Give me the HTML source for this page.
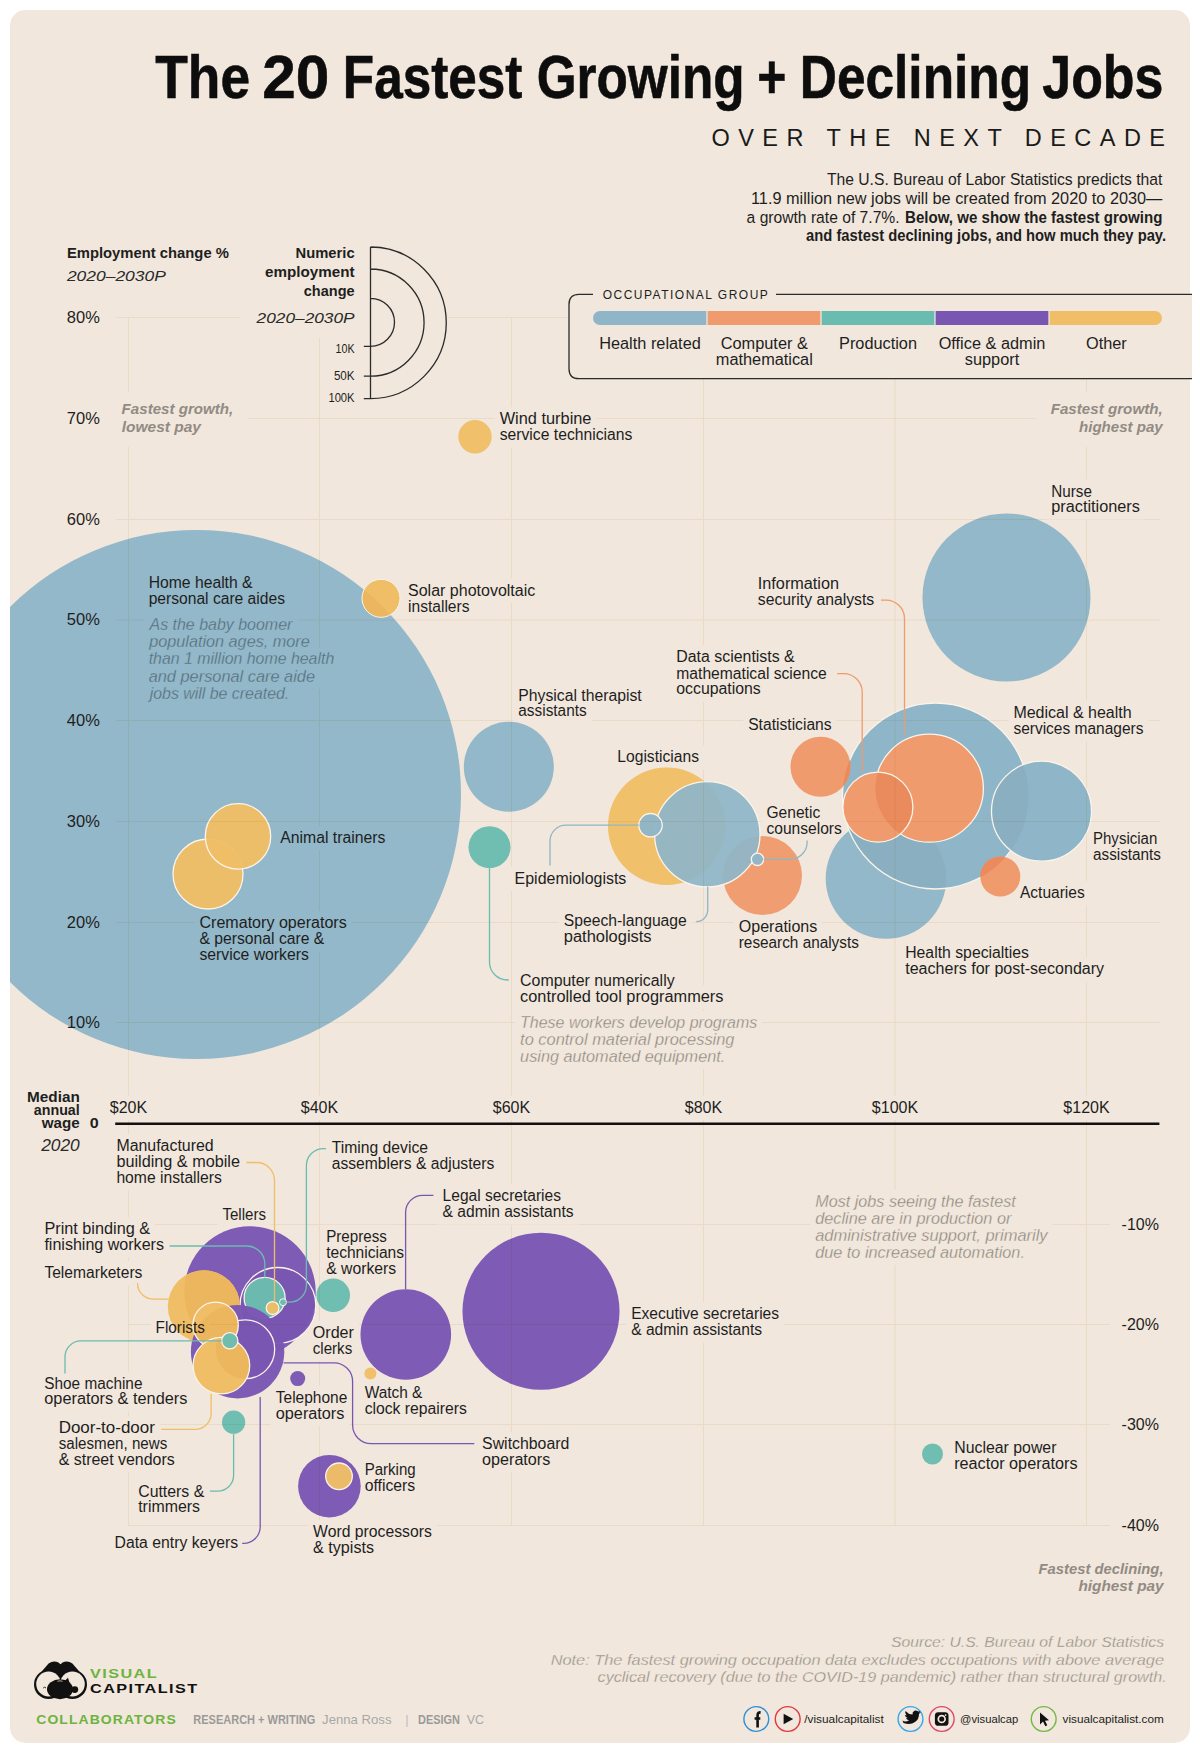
<!DOCTYPE html>
<html><head><meta charset="utf-8"><title>The 20 Fastest Growing + Declining Jobs</title>
<style>
html,body{margin:0;padding:0;background:#fff;}
svg{display:block;}
text{font-family:"Liberation Sans",sans-serif;}
</style></head><body>
<svg width="1200" height="1753" viewBox="0 0 1200 1753">
<clipPath id="cardclip"><rect x="10" y="10" width="1180" height="1733" rx="15"/></clipPath>

<g clip-path="url(#cardclip)"><rect x="10" y="10" width="1180" height="1733" rx="15" fill="#f1e7dc"/><circle cx="196.5" cy="794.5" r="264.5" fill="#8fb6c8" fill-opacity="0.97"/>
<circle cx="1006.5" cy="597.5" r="84" fill="#8fb6c8" fill-opacity="0.97"/>
<circle cx="475" cy="436.7" r="16.7" fill="#f0be66" fill-opacity="0.97"/>
<circle cx="381" cy="598.3" r="19" fill="#f0be66" fill-opacity="1"/>
<clipPath id="cc1"><circle cx="381" cy="598.3" r="19"/></clipPath><g clip-path="url(#cc1)"><circle cx="196.5" cy="794.5" r="264.5" fill="#ebb65d"/></g>
<circle cx="381" cy="598.3" r="19" fill="none" stroke="#faf4ea" stroke-width="1"/>
<circle cx="508.8" cy="766.7" r="45" fill="#8fb6c8" fill-opacity="0.97"/>
<circle cx="489.5" cy="847.2" r="21" fill="#6bbcb0" fill-opacity="0.97"/>
<circle cx="208" cy="874" r="35" fill="#f0be66" fill-opacity="0.97" stroke="#faf4ea" stroke-width="1.3"/>
<circle cx="238" cy="836.4" r="32.7" fill="#f0be66" fill-opacity="0.97" stroke="#faf4ea" stroke-width="1.3"/>
<circle cx="666.7" cy="826.3" r="58.7" fill="#f0be66" fill-opacity="0.97"/>
<circle cx="762.5" cy="875.6" r="39.5" fill="#ef9b6d" fill-opacity="0.97"/>
<circle cx="707.3" cy="834.3" r="52.7" fill="#8fb6c8" fill-opacity="0.93" stroke="#faf4ea" stroke-width="1.3"/>
<circle cx="650.5" cy="825.2" r="11.7" fill="#8fb6c8" fill-opacity="0.97" stroke="#faf4ea" stroke-width="1.3"/>
<circle cx="757.5" cy="859.3" r="6.2" fill="#8fb6c8" fill-opacity="0.97" stroke="#faf4ea" stroke-width="1.3"/>
<circle cx="886" cy="878.5" r="60.3" fill="#8fb6c8" fill-opacity="0.97"/>
<circle cx="935.5" cy="796" r="93" fill="#8fb6c8" fill-opacity="1"/>
<clipPath id="cc2"><circle cx="935.5" cy="796" r="93"/></clipPath><g clip-path="url(#cc2)"><circle cx="886" cy="878.5" r="60.3" fill="#8aafc1"/></g>
<circle cx="935.5" cy="796" r="93" fill="none" stroke="#faf4ea" stroke-width="1.3"/>
<circle cx="820.5" cy="766.7" r="30" fill="#ef9b6d" fill-opacity="1"/>
<clipPath id="cc3"><circle cx="820.5" cy="766.7" r="30"/></clipPath><g clip-path="url(#cc3)"><circle cx="935.5" cy="796" r="93" fill="#e98b5c"/></g>
<circle cx="1000.3" cy="876.5" r="20" fill="#ef9b6d" fill-opacity="1"/>
<clipPath id="cc4"><circle cx="1000.3" cy="876.5" r="20"/></clipPath><g clip-path="url(#cc4)"><circle cx="935.5" cy="796" r="93" fill="#e98b5c"/></g>
<circle cx="1041.5" cy="811.2" r="50" fill="#8fb6c8" fill-opacity="1"/>
<clipPath id="cc5"><circle cx="1041.5" cy="811.2" r="50"/></clipPath><g clip-path="url(#cc5)"><circle cx="935.5" cy="796" r="93" fill="#8aafc1"/></g>
<circle cx="1041.5" cy="811.2" r="50" fill="none" stroke="#faf4ea" stroke-width="1.3"/>
<circle cx="929.4" cy="788.2" r="54" fill="#ef9b6d" fill-opacity="1" stroke="#faf4ea" stroke-width="1.3"/>
<circle cx="877.9" cy="807.1" r="35" fill="#ef9b6d" fill-opacity="1"/>
<clipPath id="cc6"><circle cx="877.9" cy="807.1" r="35"/></clipPath><g clip-path="url(#cc6)"><circle cx="929.4" cy="788.2" r="54" fill="#e98b5c"/></g>
<circle cx="877.9" cy="807.1" r="35" fill="none" stroke="#faf4ea" stroke-width="1.3"/>
<circle cx="541" cy="1311.2" r="78.5" fill="#7a56b3" fill-opacity="0.97"/>
<circle cx="405.8" cy="1334.5" r="45.3" fill="#7a56b3" fill-opacity="0.97"/>
<circle cx="333.2" cy="1295.3" r="16.8" fill="#6bbcb0" fill-opacity="0.97"/>
<circle cx="370.4" cy="1373.6" r="6" fill="#f0be66" fill-opacity="0.97"/>
<circle cx="297.7" cy="1378.6" r="7.5" fill="#7a56b3" fill-opacity="0.97"/>
<circle cx="233.6" cy="1422.2" r="11.6" fill="#6bbcb0" fill-opacity="0.97"/>
<circle cx="329.4" cy="1486.2" r="31.3" fill="#7a56b3" fill-opacity="0.97"/>
<circle cx="339" cy="1476.3" r="13.3" fill="#f0be66" fill-opacity="0.97" stroke="#faf4ea" stroke-width="1.3"/>
<circle cx="932.5" cy="1454" r="10.5" fill="#6bbcb0" fill-opacity="0.97"/>
<circle cx="250" cy="1292" r="65.7" fill="#7a56b3" fill-opacity="0.97"/>
<circle cx="277.9" cy="1305.4" r="37.9" fill="#7a56b3" fill-opacity="0.97" stroke="#faf4ea" stroke-width="1.3"/>
<circle cx="264.6" cy="1297.9" r="20.5" fill="#6bbcb0" fill-opacity="0.97" stroke="#faf4ea" stroke-width="1.3"/>
<circle cx="272.6" cy="1308.1" r="6.4" fill="#f0be66" fill-opacity="0.97" stroke="#faf4ea" stroke-width="1.3"/>
<circle cx="283" cy="1302.2" r="3.5" fill="#6bbcb0" fill-opacity="0.97" stroke="#faf4ea" stroke-width="1"/>
<circle cx="203.9" cy="1306.4" r="36.1" fill="#f0be66" fill-opacity="1"/>
<clipPath id="cc7"><circle cx="203.9" cy="1306.4" r="36.1"/></clipPath><g clip-path="url(#cc7)"><circle cx="250" cy="1292" r="65.7" fill="#ebb65d"/></g>
<circle cx="237.6" cy="1351.7" r="46.7" fill="#7a56b3" fill-opacity="0.97"/>
<circle cx="245.3" cy="1349.3" r="29.4" fill="#7a56b3" fill-opacity="0.97" stroke="#faf4ea" stroke-width="1.3"/>
<circle cx="215.6" cy="1324.9" r="22.7" fill="#f0be66" fill-opacity="1"/>
<clipPath id="cc8"><circle cx="215.6" cy="1324.9" r="22.7"/></clipPath><g clip-path="url(#cc8)"><circle cx="237.6" cy="1351.7" r="46.7" fill="#ebb65d"/></g>
<circle cx="215.6" cy="1324.9" r="22.7" fill="none" stroke="#faf4ea" stroke-width="1.3"/>
<circle cx="221.4" cy="1365.6" r="28.3" fill="#f0be66" fill-opacity="1"/>
<clipPath id="cc9"><circle cx="221.4" cy="1365.6" r="28.3"/></clipPath><g clip-path="url(#cc9)"><circle cx="245.3" cy="1349.3" r="29.4" fill="#ebb65d"/></g>
<circle cx="221.4" cy="1365.6" r="28.3" fill="none" stroke="#faf4ea" stroke-width="1.3"/>
<circle cx="229.8" cy="1340.7" r="8.1" fill="#6bbcb0" fill-opacity="0.97" stroke="#faf4ea" stroke-width="1.3"/>
<mask id="gm" maskUnits="userSpaceOnUse" x="0" y="0" width="1200" height="1753"><rect x="0" y="0" width="1200" height="1753" fill="#fff"/><rect x="150.3" y="47.8" width="104.8" height="66.7" fill="#000"/><rect x="257.3" y="47.8" width="77.0" height="66.7" fill="#000"/><rect x="337.8" y="47.8" width="189.7" height="66.7" fill="#000"/><rect x="531.7" y="47.8" width="217.9" height="66.7" fill="#000"/><rect x="752.3" y="47.8" width="39.1" height="66.7" fill="#000"/><rect x="794.8" y="47.8" width="241.3" height="66.7" fill="#000"/><rect x="1037.3" y="47.8" width="131.1" height="66.7" fill="#000"/><rect x="706.5" y="123.9" width="471.9" height="31.4" fill="#000"/><rect x="821.9" y="168.0" width="345.5" height="24.7" fill="#000"/><rect x="746.0" y="186.6" width="421.4" height="24.7" fill="#000"/><rect x="741.6" y="205.3" width="163.0" height="24.7" fill="#000"/><rect x="900.0" y="205.3" width="267.4" height="24.7" fill="#000"/><rect x="801.1" y="224.0" width="370.0" height="24.7" fill="#000"/><rect x="61.9" y="241.6" width="172.0" height="23.0" fill="#000"/><rect x="61.9" y="265.0" width="109.0" height="23.5" fill="#000"/><rect x="290.5" y="241.9" width="69.1" height="23.0" fill="#000"/><rect x="260.1" y="261.3" width="99.5" height="23.0" fill="#000"/><rect x="298.8" y="280.0" width="60.8" height="23.0" fill="#000"/><rect x="251.6" y="306.2" width="108.0" height="23.5" fill="#000"/><rect x="330.6" y="338.7" width="29.0" height="20.7" fill="#000"/><rect x="328.9" y="365.8" width="30.7" height="20.7" fill="#000"/><rect x="323.4" y="388.2" width="36.2" height="20.7" fill="#000"/><rect x="597.7" y="284.6" width="176.9" height="20.7" fill="#000"/><rect x="594.2" y="331.5" width="111.6" height="24.4" fill="#000"/><rect x="715.8" y="331.5" width="97.1" height="24.4" fill="#000"/><rect x="710.8" y="347.5" width="107.0" height="24.4" fill="#000"/><rect x="834.0" y="331.5" width="88.0" height="24.4" fill="#000"/><rect x="933.6" y="331.5" width="116.7" height="24.4" fill="#000"/><rect x="959.8" y="347.5" width="64.4" height="24.4" fill="#000"/><rect x="1081.0" y="331.5" width="50.8" height="24.4" fill="#000"/><rect x="61.8" y="305.1" width="43.0" height="24.8" fill="#000"/><rect x="61.8" y="406.1" width="43.0" height="24.8" fill="#000"/><rect x="61.8" y="507.1" width="43.0" height="24.8" fill="#000"/><rect x="61.8" y="607.6" width="43.0" height="24.8" fill="#000"/><rect x="61.8" y="708.1" width="43.0" height="24.8" fill="#000"/><rect x="61.8" y="809.1" width="43.0" height="24.8" fill="#000"/><rect x="61.8" y="910.1" width="43.0" height="24.8" fill="#000"/><rect x="61.8" y="1010.1" width="43.0" height="24.8" fill="#000"/><rect x="116.6" y="398.4" width="121.7" height="23.0" fill="#000"/><rect x="116.7" y="415.7" width="89.3" height="23.0" fill="#000"/><rect x="1045.7" y="398.4" width="122.0" height="23.0" fill="#000"/><rect x="1074.0" y="415.7" width="93.7" height="23.0" fill="#000"/><rect x="104.8" y="1095.8" width="47.4" height="24.4" fill="#000"/><rect x="295.8" y="1095.8" width="47.4" height="24.4" fill="#000"/><rect x="487.8" y="1095.8" width="47.4" height="24.4" fill="#000"/><rect x="679.8" y="1095.8" width="47.4" height="24.4" fill="#000"/><rect x="866.9" y="1095.8" width="56.3" height="24.4" fill="#000"/><rect x="1058.3" y="1095.8" width="56.3" height="24.4" fill="#000"/><rect x="22.0" y="1085.2" width="62.8" height="23.5" fill="#000"/><rect x="28.8" y="1098.5" width="55.9" height="23.5" fill="#000"/><rect x="36.8" y="1111.9" width="48.0" height="23.5" fill="#000"/><rect x="84.8" y="1111.5" width="18.9" height="23.9" fill="#000"/><rect x="36.2" y="1133.6" width="48.6" height="24.4" fill="#000"/><rect x="1116.6" y="1213.0" width="47.4" height="24.4" fill="#000"/><rect x="1116.6" y="1313.0" width="47.4" height="24.4" fill="#000"/><rect x="1116.6" y="1413.0" width="47.4" height="24.4" fill="#000"/><rect x="1116.6" y="1514.0" width="47.4" height="24.4" fill="#000"/><rect x="1033.5" y="1558.1" width="135.0" height="23.0" fill="#000"/><rect x="1073.5" y="1575.1" width="95.0" height="23.0" fill="#000"/><rect x="494.7" y="407.1" width="101.8" height="24.4" fill="#000"/><rect x="494.7" y="423.1" width="142.7" height="24.4" fill="#000"/><rect x="403.0" y="578.5" width="137.3" height="24.4" fill="#000"/><rect x="403.0" y="594.5" width="71.5" height="24.4" fill="#000"/><rect x="143.7" y="571.1" width="113.9" height="24.4" fill="#000"/><rect x="143.7" y="587.1" width="146.2" height="24.4" fill="#000"/><rect x="144.5" y="613.2" width="152.8" height="24.4" fill="#000"/><rect x="144.2" y="630.3" width="170.6" height="24.4" fill="#000"/><rect x="143.7" y="647.4" width="195.6" height="24.4" fill="#000"/><rect x="143.7" y="664.5" width="176.3" height="24.4" fill="#000"/><rect x="144.7" y="681.6" width="149.5" height="24.4" fill="#000"/><rect x="275.3" y="826.1" width="115.1" height="24.4" fill="#000"/><rect x="194.5" y="911.1" width="157.2" height="24.4" fill="#000"/><rect x="194.5" y="926.9" width="134.8" height="24.4" fill="#000"/><rect x="194.5" y="942.8" width="119.3" height="24.4" fill="#000"/><rect x="1046.3" y="479.6" width="50.7" height="24.4" fill="#000"/><rect x="1046.3" y="495.1" width="98.6" height="24.4" fill="#000"/><rect x="752.8" y="572.4" width="91.2" height="24.4" fill="#000"/><rect x="752.8" y="587.8" width="126.4" height="24.4" fill="#000"/><rect x="671.3" y="645.1" width="128.3" height="24.4" fill="#000"/><rect x="671.3" y="661.6" width="160.5" height="24.4" fill="#000"/><rect x="671.3" y="677.3" width="94.5" height="24.4" fill="#000"/><rect x="513.3" y="683.6" width="133.3" height="24.4" fill="#000"/><rect x="513.3" y="699.0" width="78.3" height="24.4" fill="#000"/><rect x="1008.4" y="700.8" width="128.2" height="24.4" fill="#000"/><rect x="1008.4" y="716.8" width="140.0" height="24.4" fill="#000"/><rect x="743.2" y="713.2" width="93.4" height="24.4" fill="#000"/><rect x="612.3" y="745.2" width="91.7" height="24.4" fill="#000"/><rect x="761.5" y="800.5" width="63.7" height="24.4" fill="#000"/><rect x="761.5" y="816.6" width="85.3" height="24.4" fill="#000"/><rect x="1088.0" y="826.8" width="74.3" height="24.4" fill="#000"/><rect x="1088.0" y="842.7" width="77.9" height="24.4" fill="#000"/><rect x="509.6" y="866.6" width="121.8" height="24.4" fill="#000"/><rect x="1015.0" y="881.0" width="74.7" height="24.4" fill="#000"/><rect x="558.8" y="909.1" width="133.0" height="24.4" fill="#000"/><rect x="558.8" y="925.2" width="97.7" height="24.4" fill="#000"/><rect x="733.8" y="914.6" width="88.6" height="24.4" fill="#000"/><rect x="733.8" y="930.5" width="130.1" height="24.4" fill="#000"/><rect x="900.2" y="940.9" width="133.8" height="24.4" fill="#000"/><rect x="900.2" y="957.1" width="209.0" height="24.4" fill="#000"/><rect x="515.1" y="969.2" width="164.5" height="24.4" fill="#000"/><rect x="515.1" y="985.0" width="213.4" height="24.4" fill="#000"/><rect x="515.1" y="1011.0" width="247.1" height="24.4" fill="#000"/><rect x="515.1" y="1027.8" width="224.4" height="24.4" fill="#000"/><rect x="515.1" y="1044.7" width="215.2" height="24.4" fill="#000"/><rect x="111.4" y="1134.0" width="107.3" height="24.4" fill="#000"/><rect x="111.4" y="1150.1" width="133.6" height="24.4" fill="#000"/><rect x="111.4" y="1166.1" width="115.5" height="24.4" fill="#000"/><rect x="326.7" y="1135.8" width="106.3" height="24.4" fill="#000"/><rect x="326.7" y="1151.8" width="172.5" height="24.4" fill="#000"/><rect x="217.4" y="1203.4" width="53.6" height="24.4" fill="#000"/><rect x="39.4" y="1217.1" width="115.7" height="24.4" fill="#000"/><rect x="39.4" y="1233.0" width="129.6" height="24.4" fill="#000"/><rect x="39.4" y="1261.1" width="108.0" height="24.4" fill="#000"/><rect x="437.6" y="1184.3" width="128.4" height="24.4" fill="#000"/><rect x="437.6" y="1200.2" width="140.9" height="24.4" fill="#000"/><rect x="321.2" y="1224.8" width="70.6" height="24.4" fill="#000"/><rect x="321.2" y="1240.8" width="87.8" height="24.4" fill="#000"/><rect x="321.2" y="1256.6" width="79.9" height="24.4" fill="#000"/><rect x="150.6" y="1315.8" width="59.3" height="24.4" fill="#000"/><rect x="307.8" y="1321.0" width="51.1" height="24.4" fill="#000"/><rect x="307.8" y="1337.0" width="49.4" height="24.4" fill="#000"/><rect x="39.3" y="1371.6" width="108.1" height="24.4" fill="#000"/><rect x="39.3" y="1387.2" width="153.0" height="24.4" fill="#000"/><rect x="270.8" y="1385.8" width="81.5" height="24.4" fill="#000"/><rect x="270.8" y="1401.9" width="78.6" height="24.4" fill="#000"/><rect x="359.7" y="1381.1" width="67.7" height="24.4" fill="#000"/><rect x="359.7" y="1397.2" width="112.1" height="24.4" fill="#000"/><rect x="53.7" y="1416.4" width="106.2" height="24.4" fill="#000"/><rect x="53.7" y="1432.1" width="118.6" height="24.4" fill="#000"/><rect x="53.7" y="1447.8" width="126.0" height="24.4" fill="#000"/><rect x="477.1" y="1432.1" width="97.2" height="24.4" fill="#000"/><rect x="477.1" y="1447.9" width="78.2" height="24.4" fill="#000"/><rect x="133.2" y="1479.5" width="76.1" height="24.4" fill="#000"/><rect x="133.2" y="1494.9" width="71.8" height="24.4" fill="#000"/><rect x="359.7" y="1458.2" width="61.0" height="24.4" fill="#000"/><rect x="359.7" y="1474.3" width="60.5" height="24.4" fill="#000"/><rect x="109.6" y="1531.1" width="133.4" height="24.4" fill="#000"/><rect x="308.1" y="1520.0" width="128.7" height="24.4" fill="#000"/><rect x="308.1" y="1535.8" width="70.9" height="24.4" fill="#000"/><rect x="626.2" y="1302.4" width="157.8" height="24.4" fill="#000"/><rect x="626.2" y="1318.4" width="140.8" height="24.4" fill="#000"/><rect x="949.2" y="1436.3" width="112.2" height="24.4" fill="#000"/><rect x="949.2" y="1451.8" width="133.4" height="24.4" fill="#000"/><rect x="810.2" y="1189.5" width="210.6" height="24.4" fill="#000"/><rect x="810.2" y="1206.5" width="206.2" height="24.4" fill="#000"/><rect x="810.2" y="1223.5" width="242.4" height="24.4" fill="#000"/><rect x="810.2" y="1240.5" width="219.7" height="24.4" fill="#000"/><rect x="886.0" y="1630.8" width="283.0" height="23.0" fill="#000"/><rect x="545.7" y="1649.4" width="623.3" height="23.0" fill="#000"/><rect x="592.6" y="1666.5" width="579.1" height="23.0" fill="#000"/><rect x="85.0" y="1663.1" width="78.0" height="22.1" fill="#000"/><rect x="85.0" y="1677.3" width="118.5" height="22.1" fill="#000"/><rect x="31.3" y="1708.8" width="150.5" height="21.6" fill="#000"/><rect x="188.3" y="1708.6" width="131.9" height="21.6" fill="#000"/><rect x="317.1" y="1708.6" width="79.4" height="21.6" fill="#000"/><rect x="400.3" y="1708.6" width="13.4" height="21.6" fill="#000"/><rect x="413.1" y="1708.6" width="51.9" height="21.6" fill="#000"/><rect x="461.7" y="1708.6" width="27.3" height="21.6" fill="#000"/><rect x="799.3" y="1708.9" width="89.4" height="20.2" fill="#000"/><rect x="955.1" y="1708.9" width="68.1" height="20.2" fill="#000"/><rect x="1057.6" y="1708.9" width="111.2" height="20.2" fill="#000"/><rect x="240.0" y="238.0" width="208.0" height="100.0" fill="#000"/><rect x="108.0" y="392.0" width="140.0" height="55.0" fill="#000"/><rect x="1036.0" y="392.0" width="135.0" height="55.0" fill="#000"/></mask><g mask="url(#gm)" style="mix-blend-mode:multiply"><path d="M116 317.5H1160M116 418.5H1160M116 519.5H1160M116 620H1160M116 720.5H1160M116 821.5H1160M116 922.5H1160M116 1022.5H1160M128.5 318V1123M319.5 318V1123M511.5 318V1123M703.5 318V1123M895 318V1123M1086.5 318V1123M127.5 1224.5H1110M127.5 1324.5H1110M127.5 1424.5H1110M127.5 1525.5H1110M128.5 1123V1526M319.5 1123V1526M511.5 1123V1526M703.5 1123V1526M895 1123V1526M1086.5 1123V1526" stroke="#f7f2e5" stroke-width="1" fill="none"/></g>
</g>
<text x="155.3" y="97.6" font-size="61.5" fill="#0d0d0d" font-weight="bold" textLength="94.78" lengthAdjust="spacingAndGlyphs" stroke="#0d0d0d" stroke-width="0.6">The</text>
<text x="262.3" y="97.6" font-size="61.5" fill="#0d0d0d" font-weight="bold" textLength="67.03" lengthAdjust="spacingAndGlyphs" stroke="#0d0d0d" stroke-width="0.6">20</text>
<text x="342.8" y="97.6" font-size="61.5" fill="#0d0d0d" font-weight="bold" textLength="179.66" lengthAdjust="spacingAndGlyphs" stroke="#0d0d0d" stroke-width="0.6">Fastest</text>
<text x="536.7" y="97.6" font-size="61.5" fill="#0d0d0d" font-weight="bold" textLength="207.94" lengthAdjust="spacingAndGlyphs" stroke="#0d0d0d" stroke-width="0.6">Growing</text>
<text x="757.3" y="97.6" font-size="61.5" fill="#0d0d0d" font-weight="bold" textLength="29.1" lengthAdjust="spacingAndGlyphs" stroke="#0d0d0d" stroke-width="0.6">+</text>
<text x="799.8" y="97.6" font-size="61.5" fill="#0d0d0d" font-weight="bold" textLength="231.31" lengthAdjust="spacingAndGlyphs" stroke="#0d0d0d" stroke-width="0.6">Declining</text>
<text x="1042.3" y="97.6" font-size="61.5" fill="#0d0d0d" font-weight="bold" textLength="121.09" lengthAdjust="spacingAndGlyphs" stroke="#0d0d0d" stroke-width="0.6">Jobs</text>
<text x="711.5" y="146.3" font-size="23.5" fill="#1a1a1a" letter-spacing="8.45">OVER THE NEXT DECADE</text>
<text x="1162.4" y="185.2" font-size="16.3" fill="#1e1e1e" text-anchor="end" textLength="335.5" lengthAdjust="spacingAndGlyphs">The U.S. Bureau of Labor Statistics predicts that</text>
<text x="1162.4" y="203.8" font-size="16.3" fill="#1e1e1e" text-anchor="end" textLength="411.4" lengthAdjust="spacingAndGlyphs">11.9 million new jobs will be created from 2020 to 2030—</text>
<text x="746.6" y="222.5" font-size="16.3" fill="#1e1e1e" textLength="153" lengthAdjust="spacingAndGlyphs">a growth rate of 7.7%.</text>
<text x="905" y="222.5" font-size="16.3" fill="#1e1e1e" font-weight="bold" textLength="257.4" lengthAdjust="spacingAndGlyphs">Below, we show the fastest growing</text>
<text x="1166.1" y="241.2" font-size="16.3" fill="#1e1e1e" font-weight="bold" text-anchor="end" textLength="360" lengthAdjust="spacingAndGlyphs">and fastest declining jobs, and how much they pay.</text>
<text x="66.9" y="257.5" font-size="14.5" fill="#1e1e1e" font-weight="bold" textLength="162" lengthAdjust="spacingAndGlyphs">Employment change %</text>
<text x="66.9" y="281.3" font-size="15" fill="#2a2a2a" font-style="italic" textLength="99" lengthAdjust="spacingAndGlyphs">2020–2030P</text>
<text x="354.6" y="257.8" font-size="14.5" fill="#1e1e1e" font-weight="bold" text-anchor="end" textLength="59.1" lengthAdjust="spacingAndGlyphs">Numeric</text>
<text x="354.6" y="277.2" font-size="14.5" fill="#1e1e1e" font-weight="bold" text-anchor="end" textLength="89.5" lengthAdjust="spacingAndGlyphs">employment</text>
<text x="354.6" y="295.9" font-size="14.5" fill="#1e1e1e" font-weight="bold" text-anchor="end" textLength="50.8" lengthAdjust="spacingAndGlyphs">change</text>
<text x="354.6" y="322.5" font-size="15" fill="#2a2a2a" font-style="italic" text-anchor="end" textLength="98" lengthAdjust="spacingAndGlyphs">2020–2030P</text>
<text x="354.6" y="352.8" font-size="12" fill="#1e1e1e" text-anchor="end" textLength="19" lengthAdjust="spacingAndGlyphs">10K</text>
<text x="354.6" y="379.9" font-size="12" fill="#1e1e1e" text-anchor="end" textLength="20.7" lengthAdjust="spacingAndGlyphs">50K</text>
<text x="354.6" y="402.3" font-size="12" fill="#1e1e1e" text-anchor="end" textLength="26.2" lengthAdjust="spacingAndGlyphs">100K</text>
<path d="M370.5 247V398.6 M370.5 247A75.8 75.8 0 0 1 370.5 398.6 M370.5 269A53.6 53.6 0 0 1 370.5 376.2 M370.5 298.3A24 24 0 0 1 370.5 346.3 M363.8 346.3H370.5 M363.8 376.2H370.5 M363.8 398.6H370.5" stroke="#2b2b2b" stroke-width="1.3" fill="none"/>
<path d="M579 294.4H1192V378.7H579Q569 378.7 569 368.7V304.4Q569 294.4 579 294.4Z" fill="#f1e7dc"/>
<path d="M776 294.4H1192 M593 294.4H579 Q569 294.4 569 304.4V368.7Q569 378.7 579 378.7H1192" stroke="#2b2b2b" stroke-width="1.3" fill="none"/>
<text x="602.7" y="298.7" font-size="12" fill="#1e1e1e" textLength="166.9" lengthAdjust="spacing" letter-spacing="1.8">OCCUPATIONAL GROUP</text>
<clipPath id="barclip"><rect x="593" y="311" width="569" height="14" rx="7"/></clipPath>
<g clip-path="url(#barclip)">
<rect x="593" y="311" width="114" height="14" fill="#8fb6c8"/>
<rect x="707" y="311" width="114" height="14" fill="#ef9b6d"/>
<rect x="821" y="311" width="114" height="14" fill="#6bbcb0"/>
<rect x="935" y="311" width="114" height="14" fill="#7a56b3"/>
<rect x="1049" y="311" width="113" height="14" fill="#f0be66"/>
<rect x="706.4" y="311" width="1.2" height="14" fill="#f3ebe0"/>
<rect x="820.4" y="311" width="1.2" height="14" fill="#f3ebe0"/>
<rect x="934.4" y="311" width="1.2" height="14" fill="#f3ebe0"/>
<rect x="1048.4" y="311" width="1.2" height="14" fill="#f3ebe0"/>
</g>
<text x="650" y="348.5" font-size="16" fill="#1e1e1e" text-anchor="middle" textLength="101.6" lengthAdjust="spacingAndGlyphs">Health related</text>
<text x="764.3" y="348.5" font-size="16" fill="#1e1e1e" text-anchor="middle" textLength="87.1" lengthAdjust="spacingAndGlyphs">Computer &amp;</text>
<text x="764.3" y="364.5" font-size="16" fill="#1e1e1e" text-anchor="middle" textLength="97.0" lengthAdjust="spacingAndGlyphs">mathematical</text>
<text x="878" y="348.5" font-size="16" fill="#1e1e1e" text-anchor="middle" textLength="78.0" lengthAdjust="spacingAndGlyphs">Production</text>
<text x="992" y="348.5" font-size="16" fill="#1e1e1e" text-anchor="middle" textLength="106.7" lengthAdjust="spacingAndGlyphs">Office &amp; admin</text>
<text x="992" y="364.5" font-size="16" fill="#1e1e1e" text-anchor="middle" textLength="54.4" lengthAdjust="spacingAndGlyphs">support</text>
<text x="1106.4" y="348.5" font-size="16" fill="#1e1e1e" text-anchor="middle" textLength="40.8" lengthAdjust="spacingAndGlyphs">Other</text>
<text x="99.8" y="322.5" font-size="16.5" fill="#1e1e1e" text-anchor="end" textLength="33.0" lengthAdjust="spacingAndGlyphs">80%</text>
<text x="99.8" y="423.5" font-size="16.5" fill="#1e1e1e" text-anchor="end" textLength="33.0" lengthAdjust="spacingAndGlyphs">70%</text>
<text x="99.8" y="524.5" font-size="16.5" fill="#1e1e1e" text-anchor="end" textLength="33.0" lengthAdjust="spacingAndGlyphs">60%</text>
<text x="99.8" y="625" font-size="16.5" fill="#1e1e1e" text-anchor="end" textLength="33.0" lengthAdjust="spacingAndGlyphs">50%</text>
<text x="99.8" y="725.5" font-size="16.5" fill="#1e1e1e" text-anchor="end" textLength="33.0" lengthAdjust="spacingAndGlyphs">40%</text>
<text x="99.8" y="826.5" font-size="16.5" fill="#1e1e1e" text-anchor="end" textLength="33.0" lengthAdjust="spacingAndGlyphs">30%</text>
<text x="99.8" y="927.5" font-size="16.5" fill="#1e1e1e" text-anchor="end" textLength="33.0" lengthAdjust="spacingAndGlyphs">20%</text>
<text x="99.8" y="1027.5" font-size="16.5" fill="#1e1e1e" text-anchor="end" textLength="33.0" lengthAdjust="spacingAndGlyphs">10%</text>
<text x="121.6" y="414.3" font-size="14.5" fill="#918b84" font-weight="bold" font-style="italic" textLength="111.7" lengthAdjust="spacingAndGlyphs">Fastest growth,</text>
<text x="121.7" y="431.6" font-size="14.5" fill="#918b84" font-weight="bold" font-style="italic" textLength="79.3" lengthAdjust="spacingAndGlyphs">lowest pay</text>
<text x="1162.7" y="414.3" font-size="14.5" fill="#918b84" font-weight="bold" font-style="italic" text-anchor="end" textLength="112" lengthAdjust="spacingAndGlyphs">Fastest growth,</text>
<text x="1162.7" y="431.6" font-size="14.5" fill="#918b84" font-weight="bold" font-style="italic" text-anchor="end" textLength="83.7" lengthAdjust="spacingAndGlyphs">highest pay</text>
<text x="128.5" y="1112.8" font-size="16.01" fill="#1e1e1e" text-anchor="middle" textLength="37.4" lengthAdjust="spacingAndGlyphs">$20K</text>
<text x="319.5" y="1112.8" font-size="16.01" fill="#1e1e1e" text-anchor="middle" textLength="37.4" lengthAdjust="spacingAndGlyphs">$40K</text>
<text x="511.5" y="1112.8" font-size="16.01" fill="#1e1e1e" text-anchor="middle" textLength="37.4" lengthAdjust="spacingAndGlyphs">$60K</text>
<text x="703.5" y="1112.8" font-size="16.01" fill="#1e1e1e" text-anchor="middle" textLength="37.4" lengthAdjust="spacingAndGlyphs">$80K</text>
<text x="895" y="1112.8" font-size="16.01" fill="#1e1e1e" text-anchor="middle" textLength="46.3" lengthAdjust="spacingAndGlyphs">$100K</text>
<text x="1086.5" y="1112.8" font-size="16.01" fill="#1e1e1e" text-anchor="middle" textLength="46.3" lengthAdjust="spacingAndGlyphs">$120K</text>
<path d="M115.2 1123.8H1159.4" stroke="#111" stroke-width="2.6" fill="none"/>
<text x="27.0" y="1101.5" font-size="15" fill="#1e1e1e" font-weight="bold" textLength="52.77" lengthAdjust="spacingAndGlyphs">Median</text>
<text x="33.8" y="1114.8" font-size="15" fill="#1e1e1e" font-weight="bold" textLength="45.93" lengthAdjust="spacingAndGlyphs">annual</text>
<text x="41.75" y="1128.2" font-size="15" fill="#1e1e1e" font-weight="bold" textLength="37.96" lengthAdjust="spacingAndGlyphs">wage</text>
<text x="89.8" y="1128.2" font-size="15.5" fill="#1e1e1e" font-weight="bold" textLength="8.94" lengthAdjust="spacingAndGlyphs">0</text>
<text x="41.17" y="1150.6" font-size="16.01" fill="#2a2a2a" font-style="italic" textLength="38.6" lengthAdjust="spacingAndGlyphs">2020</text>
<text x="1159" y="1230.0" font-size="16.01" fill="#1e1e1e" text-anchor="end" textLength="37.4" lengthAdjust="spacingAndGlyphs">-10%</text>
<text x="1159" y="1330.0" font-size="16.01" fill="#1e1e1e" text-anchor="end" textLength="37.4" lengthAdjust="spacingAndGlyphs">-20%</text>
<text x="1159" y="1430.0" font-size="16.01" fill="#1e1e1e" text-anchor="end" textLength="37.4" lengthAdjust="spacingAndGlyphs">-30%</text>
<text x="1159" y="1531.0" font-size="16.01" fill="#1e1e1e" text-anchor="end" textLength="37.4" lengthAdjust="spacingAndGlyphs">-40%</text>
<text x="1163.5" y="1574" font-size="14.5" fill="#918b84" font-weight="bold" font-style="italic" text-anchor="end" textLength="125" lengthAdjust="spacingAndGlyphs">Fastest declining,</text>
<text x="1163.5" y="1591" font-size="14.5" fill="#918b84" font-weight="bold" font-style="italic" text-anchor="end" textLength="85" lengthAdjust="spacingAndGlyphs">highest pay</text>
<path d="M881 600.1 L886.00 600.10 A18.50 18.50 0 0 1 904.50 618.60 L904.5 734.5" stroke="#ef9b6d" stroke-width="1.3" fill="none"/>
<path d="M837.1 673.6 L843.70 673.60 A18.50 18.50 0 0 1 862.20 692.10 L862.2 772" stroke="#ef9b6d" stroke-width="1.3" fill="none"/>
<path d="M763.7 859.3 L790.10 859.30 A17.00 17.00 0 0 0 807.10 842.30 L807.1 840.5" stroke="#8fb6c8" stroke-width="1.3" fill="none"/>
<path d="M638.8 825.2 L566.00 825.20 A16.00 16.00 0 0 0 550.00 841.20 L550 865.5" stroke="#8fb6c8" stroke-width="1.3" fill="none"/>
<path d="M707.7 886.8 L707.70 910.10 A11.50 11.50 0 0 1 696.20 921.60 L696.2 921.6" stroke="#8fb6c8" stroke-width="1.3" fill="none"/>
<path d="M489.5 868.2 L489.50 962.00 A18.00 18.00 0 0 0 507.50 980.00 L508.75 980" stroke="#6bbcb0" stroke-width="1.3" fill="none"/>
<text x="499.7" y="424.1" font-size="16" fill="#1e1e1e" textLength="91.76" lengthAdjust="spacingAndGlyphs">Wind turbine</text>
<text x="499.7" y="440.1" font-size="16" fill="#1e1e1e" textLength="132.67" lengthAdjust="spacingAndGlyphs">service technicians</text>
<text x="408.0" y="595.5" font-size="16" fill="#1e1e1e" textLength="127.28" lengthAdjust="spacingAndGlyphs">Solar photovoltaic</text>
<text x="408.0" y="611.5" font-size="16" fill="#1e1e1e" textLength="61.53" lengthAdjust="spacingAndGlyphs">installers</text>
<text x="148.7" y="588.1" font-size="16" fill="#1e1e1e" textLength="103.87" lengthAdjust="spacingAndGlyphs">Home health &amp;</text>
<text x="148.7" y="604.1" font-size="16" fill="#1e1e1e" textLength="136.25" lengthAdjust="spacingAndGlyphs">personal care aides</text>
<text x="149.5" y="630.2" font-size="16" fill="#556d79" font-style="italic" textLength="142.85" lengthAdjust="spacingAndGlyphs" stroke="#93b8c9" stroke-width="0.3">As the baby boomer</text>
<text x="149.19" y="647.3000000000001" font-size="16" fill="#556d79" font-style="italic" textLength="160.59" lengthAdjust="spacingAndGlyphs" stroke="#93b8c9" stroke-width="0.3">population ages, more</text>
<text x="148.7" y="664.4000000000001" font-size="16" fill="#556d79" font-style="italic" textLength="185.55" lengthAdjust="spacingAndGlyphs" stroke="#93b8c9" stroke-width="0.3">than 1 million home health</text>
<text x="148.7" y="681.5" font-size="16" fill="#556d79" font-style="italic" textLength="166.35" lengthAdjust="spacingAndGlyphs" stroke="#93b8c9" stroke-width="0.3">and personal care aide</text>
<text x="149.71" y="698.6" font-size="16" fill="#556d79" font-style="italic" textLength="139.52" lengthAdjust="spacingAndGlyphs" stroke="#93b8c9" stroke-width="0.3">jobs will be created.</text>
<text x="280.3" y="843.1" font-size="16" fill="#1e1e1e" textLength="105.08" lengthAdjust="spacingAndGlyphs">Animal trainers</text>
<text x="199.5" y="928.1" font-size="16" fill="#1e1e1e" textLength="147.19" lengthAdjust="spacingAndGlyphs">Crematory operators</text>
<text x="199.5" y="943.9" font-size="16" fill="#1e1e1e" textLength="124.77" lengthAdjust="spacingAndGlyphs">&amp; personal care &amp;</text>
<text x="199.5" y="959.8" font-size="16" fill="#1e1e1e" textLength="109.33" lengthAdjust="spacingAndGlyphs">service workers</text>
<text x="1051.3" y="496.6" font-size="16" fill="#1e1e1e" textLength="40.66" lengthAdjust="spacingAndGlyphs">Nurse</text>
<text x="1051.3" y="512.1" font-size="16" fill="#1e1e1e" textLength="88.64" lengthAdjust="spacingAndGlyphs">practitioners</text>
<text x="757.8" y="589.4" font-size="16" fill="#1e1e1e" textLength="81.23" lengthAdjust="spacingAndGlyphs">Information</text>
<text x="757.8" y="604.8" font-size="16" fill="#1e1e1e" textLength="116.42" lengthAdjust="spacingAndGlyphs">security analysts</text>
<text x="676.3" y="662.1" font-size="16" fill="#1e1e1e" textLength="118.35" lengthAdjust="spacingAndGlyphs">Data scientists &amp;</text>
<text x="676.3" y="678.6" font-size="16" fill="#1e1e1e" textLength="150.47" lengthAdjust="spacingAndGlyphs">mathematical science</text>
<text x="676.3" y="694.3" font-size="16" fill="#1e1e1e" textLength="84.45" lengthAdjust="spacingAndGlyphs">occupations</text>
<text x="518.3" y="700.6" font-size="16" fill="#1e1e1e" textLength="123.35" lengthAdjust="spacingAndGlyphs">Physical therapist</text>
<text x="518.3" y="716.0" font-size="16" fill="#1e1e1e" textLength="68.34" lengthAdjust="spacingAndGlyphs">assistants</text>
<text x="1013.4" y="717.8" font-size="16" fill="#1e1e1e" textLength="118.24" lengthAdjust="spacingAndGlyphs">Medical &amp; health</text>
<text x="1013.4" y="733.8" font-size="16" fill="#1e1e1e" textLength="130.02" lengthAdjust="spacingAndGlyphs">services managers</text>
<text x="748.2" y="730.2" font-size="16" fill="#1e1e1e" textLength="83.43" lengthAdjust="spacingAndGlyphs">Statisticians</text>
<text x="617.3" y="762.2" font-size="16" fill="#1e1e1e" textLength="81.68" lengthAdjust="spacingAndGlyphs">Logisticians</text>
<text x="766.5" y="817.5" font-size="16" fill="#1e1e1e" textLength="53.69" lengthAdjust="spacingAndGlyphs">Genetic</text>
<text x="766.5" y="833.6" font-size="16" fill="#1e1e1e" textLength="75.33" lengthAdjust="spacingAndGlyphs">counselors</text>
<text x="1093.0" y="843.8" font-size="16" fill="#1e1e1e" textLength="64.3" lengthAdjust="spacingAndGlyphs">Physician</text>
<text x="1093.0" y="859.7" font-size="16" fill="#1e1e1e" textLength="67.94" lengthAdjust="spacingAndGlyphs">assistants</text>
<text x="514.6" y="883.6" font-size="16" fill="#1e1e1e" textLength="111.75" lengthAdjust="spacingAndGlyphs">Epidemiologists</text>
<text x="1020.0" y="898.0" font-size="16" fill="#1e1e1e" textLength="64.67" lengthAdjust="spacingAndGlyphs">Actuaries</text>
<text x="563.8" y="926.1" font-size="16" fill="#1e1e1e" textLength="122.99" lengthAdjust="spacingAndGlyphs">Speech-language</text>
<text x="563.8" y="942.2" font-size="16" fill="#1e1e1e" textLength="87.74" lengthAdjust="spacingAndGlyphs">pathologists</text>
<text x="738.75" y="931.6" font-size="16" fill="#1e1e1e" textLength="78.57" lengthAdjust="spacingAndGlyphs">Operations</text>
<text x="738.75" y="947.5" font-size="16" fill="#1e1e1e" textLength="120.09" lengthAdjust="spacingAndGlyphs">research analysts</text>
<text x="905.2" y="957.9" font-size="16" fill="#1e1e1e" textLength="123.75" lengthAdjust="spacingAndGlyphs">Health specialties</text>
<text x="905.2" y="974.1" font-size="16" fill="#1e1e1e" textLength="198.97" lengthAdjust="spacingAndGlyphs">teachers for post-secondary</text>
<text x="520.1" y="986.2" font-size="16" fill="#1e1e1e" textLength="154.52" lengthAdjust="spacingAndGlyphs">Computer numerically</text>
<text x="520.1" y="1002.0" font-size="16" fill="#1e1e1e" textLength="203.38" lengthAdjust="spacingAndGlyphs">controlled tool programmers</text>
<text x="520.1" y="1028.0" font-size="16" fill="#8b857e" font-style="italic" textLength="237.08" lengthAdjust="spacingAndGlyphs" stroke="#f1e7dc" stroke-width="0.3">These workers develop programs</text>
<text x="520.1" y="1044.85" font-size="16" fill="#8b857e" font-style="italic" textLength="214.41" lengthAdjust="spacingAndGlyphs" stroke="#f1e7dc" stroke-width="0.3">to control material processing</text>
<text x="520.1" y="1061.7" font-size="16" fill="#8b857e" font-style="italic" textLength="205.18" lengthAdjust="spacingAndGlyphs" stroke="#f1e7dc" stroke-width="0.3">using automated equipment.</text>
<path d="M246.5 1162.5 L256.50 1162.50 A18.00 18.00 0 0 1 274.50 1180.50 L274.5 1301.7" stroke="#f0be66" stroke-width="1.3" fill="none"/>
<path d="M326 1148.6 L323.40 1148.60 A17.00 17.00 0 0 0 306.40 1165.60 L306.40 1285.20 A17.00 17.00 0 0 1 289.40 1302.20 L286.5 1302.2" stroke="#6bbcb0" stroke-width="1.3" fill="none"/>
<path d="M169.6 1246 L246.80 1246.00 A18.00 18.00 0 0 1 264.80 1264.00 L264.8 1277.4" stroke="#6bbcb0" stroke-width="1.3" fill="none"/>
<path d="M137.5 1283 L137.50 1283.20 A16.00 16.00 0 0 0 153.50 1299.20 L168.5 1299.2" stroke="#f0be66" stroke-width="1.3" fill="none"/>
<path d="M221.7 1340.9 L81.00 1340.90 A16.00 16.00 0 0 0 65.00 1356.90 L65 1373.5" stroke="#6bbcb0" stroke-width="1.3" fill="none"/>
<path d="M211.1 1393.9 L211.10 1413.40 A16.00 16.00 0 0 1 195.10 1429.40 L161.3 1429.4" stroke="#f0be66" stroke-width="1.3" fill="none"/>
<path d="M233.6 1433.8 L233.60 1475.20 A16.00 16.00 0 0 1 217.60 1491.20 L210 1491.2" stroke="#6bbcb0" stroke-width="1.3" fill="none"/>
<path d="M260.2 1397 L260.20 1526.70 A16.60 16.60 0 0 1 243.60 1543.30 L242.2 1543.3" stroke="#7a56b3" stroke-width="1.3" fill="none"/>
<path d="M283.5 1362.8 L334.00 1362.80 A18.60 18.60 0 0 1 352.60 1381.40 L352.60 1425.10 A18.60 18.60 0 0 0 371.20 1443.70 L474.3 1443.7" stroke="#7a56b3" stroke-width="1.3" fill="none"/>
<path d="M405.6 1289.2 L405.60 1212.40 A17.00 17.00 0 0 1 422.60 1195.40 L433.4 1195.4" stroke="#7a56b3" stroke-width="1.3" fill="none"/>
<text x="116.4" y="1151.0" font-size="16" fill="#1e1e1e" textLength="97.27" lengthAdjust="spacingAndGlyphs">Manufactured</text>
<text x="116.4" y="1167.1" font-size="16" fill="#1e1e1e" textLength="123.62" lengthAdjust="spacingAndGlyphs">building &amp; mobile</text>
<text x="116.4" y="1183.1" font-size="16" fill="#1e1e1e" textLength="105.47" lengthAdjust="spacingAndGlyphs">home installers</text>
<text x="331.7" y="1152.8" font-size="16" fill="#1e1e1e" textLength="96.32" lengthAdjust="spacingAndGlyphs">Timing device</text>
<text x="331.7" y="1168.8" font-size="16" fill="#1e1e1e" textLength="162.54" lengthAdjust="spacingAndGlyphs">assemblers &amp; adjusters</text>
<text x="222.4" y="1220.4" font-size="16" fill="#1e1e1e" textLength="43.59" lengthAdjust="spacingAndGlyphs">Tellers</text>
<text x="44.4" y="1234.1" font-size="16" fill="#1e1e1e" textLength="105.66" lengthAdjust="spacingAndGlyphs">Print binding &amp;</text>
<text x="44.4" y="1250.0" font-size="16" fill="#1e1e1e" textLength="119.55" lengthAdjust="spacingAndGlyphs">finishing workers</text>
<text x="44.4" y="1278.1" font-size="16" fill="#1e1e1e" textLength="97.99" lengthAdjust="spacingAndGlyphs">Telemarketers</text>
<text x="442.6" y="1201.3" font-size="16" fill="#1e1e1e" textLength="118.37" lengthAdjust="spacingAndGlyphs">Legal secretaries</text>
<text x="442.6" y="1217.2" font-size="16" fill="#1e1e1e" textLength="130.93" lengthAdjust="spacingAndGlyphs">&amp; admin assistants</text>
<text x="326.2" y="1241.8" font-size="16" fill="#1e1e1e" textLength="60.62" lengthAdjust="spacingAndGlyphs">Prepress</text>
<text x="326.2" y="1257.8" font-size="16" fill="#1e1e1e" textLength="77.84" lengthAdjust="spacingAndGlyphs">technicians</text>
<text x="326.2" y="1273.6" font-size="16" fill="#1e1e1e" textLength="69.92" lengthAdjust="spacingAndGlyphs">&amp; workers</text>
<text x="155.6" y="1332.8" font-size="16" fill="#1e1e1e" textLength="49.33" lengthAdjust="spacingAndGlyphs">Florists</text>
<text x="312.8" y="1338.0" font-size="16" fill="#1e1e1e" textLength="41.13" lengthAdjust="spacingAndGlyphs">Order</text>
<text x="312.8" y="1354.0" font-size="16" fill="#1e1e1e" textLength="39.42" lengthAdjust="spacingAndGlyphs">clerks</text>
<text x="44.3" y="1388.6" font-size="16" fill="#1e1e1e" textLength="98.14" lengthAdjust="spacingAndGlyphs">Shoe machine</text>
<text x="44.3" y="1404.2" font-size="16" fill="#1e1e1e" textLength="143.03" lengthAdjust="spacingAndGlyphs">operators &amp; tenders</text>
<text x="275.8" y="1402.8" font-size="16" fill="#1e1e1e" textLength="71.48" lengthAdjust="spacingAndGlyphs">Telephone</text>
<text x="275.8" y="1418.9" font-size="16" fill="#1e1e1e" textLength="68.57" lengthAdjust="spacingAndGlyphs">operators</text>
<text x="364.7" y="1398.1" font-size="16" fill="#1e1e1e" textLength="57.73" lengthAdjust="spacingAndGlyphs">Watch &amp;</text>
<text x="364.7" y="1414.2" font-size="16" fill="#1e1e1e" textLength="102.12" lengthAdjust="spacingAndGlyphs">clock repairers</text>
<text x="58.7" y="1433.4" font-size="16" fill="#1e1e1e" textLength="96.17" lengthAdjust="spacingAndGlyphs">Door-to-door</text>
<text x="58.7" y="1449.1" font-size="16" fill="#1e1e1e" textLength="108.59" lengthAdjust="spacingAndGlyphs">salesmen, news</text>
<text x="58.7" y="1464.8" font-size="16" fill="#1e1e1e" textLength="116.01" lengthAdjust="spacingAndGlyphs">&amp; street vendors</text>
<text x="482.1" y="1449.1" font-size="16" fill="#1e1e1e" textLength="87.24" lengthAdjust="spacingAndGlyphs">Switchboard</text>
<text x="482.1" y="1464.9" font-size="16" fill="#1e1e1e" textLength="68.17" lengthAdjust="spacingAndGlyphs">operators</text>
<text x="138.2" y="1496.5" font-size="16" fill="#1e1e1e" textLength="66.07" lengthAdjust="spacingAndGlyphs">Cutters &amp;</text>
<text x="138.2" y="1511.9" font-size="16" fill="#1e1e1e" textLength="61.77" lengthAdjust="spacingAndGlyphs">trimmers</text>
<text x="364.7" y="1475.2" font-size="16" fill="#1e1e1e" textLength="51.01" lengthAdjust="spacingAndGlyphs">Parking</text>
<text x="364.7" y="1491.3" font-size="16" fill="#1e1e1e" textLength="50.48" lengthAdjust="spacingAndGlyphs">officers</text>
<text x="114.6" y="1548.1" font-size="16" fill="#1e1e1e" textLength="123.44" lengthAdjust="spacingAndGlyphs">Data entry keyers</text>
<text x="313.1" y="1537.0" font-size="16" fill="#1e1e1e" textLength="118.69" lengthAdjust="spacingAndGlyphs">Word processors</text>
<text x="313.1" y="1552.8" font-size="16" fill="#1e1e1e" textLength="60.88" lengthAdjust="spacingAndGlyphs">&amp; typists</text>
<text x="631.2" y="1319.4" font-size="16" fill="#1e1e1e" textLength="147.85" lengthAdjust="spacingAndGlyphs">Executive secretaries</text>
<text x="631.2" y="1335.4" font-size="16" fill="#1e1e1e" textLength="130.83" lengthAdjust="spacingAndGlyphs">&amp; admin assistants</text>
<text x="954.2" y="1453.3" font-size="16" fill="#1e1e1e" textLength="102.25" lengthAdjust="spacingAndGlyphs">Nuclear power</text>
<text x="954.2" y="1468.8" font-size="16" fill="#1e1e1e" textLength="123.37" lengthAdjust="spacingAndGlyphs">reactor operators</text>
<text x="815.2" y="1206.5" font-size="16" fill="#8b857e" font-style="italic" textLength="200.57" lengthAdjust="spacingAndGlyphs" stroke="#f1e7dc" stroke-width="0.3">Most jobs seeing the fastest</text>
<text x="815.2" y="1223.5" font-size="16" fill="#8b857e" font-style="italic" textLength="196.18" lengthAdjust="spacingAndGlyphs" stroke="#f1e7dc" stroke-width="0.3">decline are in production or</text>
<text x="815.2" y="1240.5" font-size="16" fill="#8b857e" font-style="italic" textLength="232.39" lengthAdjust="spacingAndGlyphs" stroke="#f1e7dc" stroke-width="0.3">administrative support, primarily</text>
<text x="815.2" y="1257.5" font-size="16" fill="#8b857e" font-style="italic" textLength="209.74" lengthAdjust="spacingAndGlyphs" stroke="#f1e7dc" stroke-width="0.3">due to increased automation.</text>
<text x="1164" y="1646.7" font-size="14.5" fill="#918b84" font-style="italic" text-anchor="end" textLength="273" lengthAdjust="spacingAndGlyphs" stroke="#f1e7dc" stroke-width="0.3">Source: U.S. Bureau of Labor Statistics</text>
<text x="1164" y="1665.3" font-size="14.5" fill="#918b84" font-style="italic" text-anchor="end" textLength="613.3" lengthAdjust="spacingAndGlyphs" stroke="#f1e7dc" stroke-width="0.3">Note: The fastest growing occupation data excludes occupations with above average</text>
<text x="1166.7" y="1682.4" font-size="14.5" fill="#918b84" font-style="italic" text-anchor="end" textLength="569.1" lengthAdjust="spacingAndGlyphs" stroke="#f1e7dc" stroke-width="0.3">cyclical recovery (due to the COVID-19 pandemic) rather than structural growth.</text>
<g>
<path d="M36.5 1677.5L48.6 1663.6Q53.5 1659.8 58.4 1662.6L60.5 1664.2L62.6 1662.6Q67.5 1659.8 72.4 1663.6L84.5 1677.5L84.5 1686L36.5 1686Z" fill="#111"/>
<circle cx="48.6" cy="1684.4" r="14.6" fill="#111"/><circle cx="72.4" cy="1684.4" r="14.6" fill="#111"/>
<circle cx="48.6" cy="1684" r="12.4" fill="#f1e7dc"/><circle cx="72.4" cy="1684" r="12.4" fill="#f1e7dc"/>
<ellipse cx="60" cy="1689.2" rx="13" ry="10" fill="#111"/><circle cx="74.8" cy="1689.6" r="3.4" fill="#111"/><path d="M64 1681.5L68 1677.8L69.6 1683Z" fill="#111"/><path d="M43.2 1688q1.4 -1.6 2.8 0" stroke="#111" stroke-width="0.9" fill="none"/>
<path d="M57.5 1681.3Q60 1680.3 62.5 1681.3" stroke="#f1e7dc" stroke-width="0.7" fill="none"/>
</g>
<text x="90" y="1678.3" font-size="13.5" fill="#6db33f" font-weight="bold" textLength="68" lengthAdjust="spacingAndGlyphs" letter-spacing="1.2">VISUAL</text>
<text x="90" y="1692.5" font-size="13.5" fill="#111" font-weight="bold" textLength="108.5" lengthAdjust="spacingAndGlyphs" letter-spacing="1.2">CAPITALIST</text>
<text x="36.3" y="1723.7" font-size="13" fill="#6db33f" font-weight="bold" textLength="140.5" lengthAdjust="spacingAndGlyphs" letter-spacing="1.0">COLLABORATORS</text>
<text x="193.3" y="1723.5" font-size="13" fill="#9a9a9a" font-weight="bold" textLength="121.9" lengthAdjust="spacingAndGlyphs">RESEARCH + WRITING</text>
<text x="322.1" y="1723.5" font-size="13" fill="#a8a8a8" textLength="69.4" lengthAdjust="spacingAndGlyphs">Jenna Ross</text>
<text x="405.3" y="1723.5" font-size="13" fill="#c0c0c0">|</text>
<text x="418.1" y="1723.5" font-size="13" fill="#9a9a9a" font-weight="bold" textLength="41.9" lengthAdjust="spacingAndGlyphs">DESIGN</text>
<text x="466.7" y="1723.5" font-size="13" fill="#a8a8a8" textLength="17.3" lengthAdjust="spacingAndGlyphs">VC</text>
<circle cx="756.3" cy="1719" r="12.4" fill="none" stroke="#2b90d9" stroke-width="1.4"/>
<circle cx="787.7" cy="1719" r="12.4" fill="none" stroke="#e2373c" stroke-width="1.4"/>
<circle cx="910.5" cy="1719" r="12.4" fill="none" stroke="#35a6e8" stroke-width="1.4"/>
<circle cx="941.7" cy="1719" r="12.4" fill="none" stroke="#e0456a" stroke-width="1.4"/>
<circle cx="1043.7" cy="1719" r="12.4" fill="none" stroke="#72b844" stroke-width="1.4"/>
<path d="M757.6 1727.5V1718.5H760.3M754.6 1718.5H757.6M757.6 1718.5V1715.2Q757.6 1712.3 760.6 1712.4" stroke="#111" stroke-width="2.6" fill="none"/>
<path d="M783.6 1713.8L793.2 1719L783.6 1724.2Z" fill="#111"/>
<path d="M902.5 1720.5q3 2 6.5 -0.3q-2.2 -0.3 -3.2 -2q1.2 0.1 1.8 -0.3q-2.5 -0.8 -2.8 -3.2q0.9 0.5 1.8 0.5q-2.2 -1.8 -1.1 -4.2q2.8 3.3 7 3.6q-0.4 -2.8 2 -3.9q2 -0.8 3.6 0.8q1.2 -0.3 2.2 -0.8q-0.4 1.2 -1.5 1.9q1.1 -0.1 2 -0.5q-0.7 1.1 -1.8 1.8q0.1 5.2 -4 8.2q-4.6 3.2 -11.5 0.9z" fill="#111"/>
<rect x="934.9" y="1712.2" width="13.6" height="13.6" rx="3.4" fill="#111"/><circle cx="941.7" cy="1719" r="3.4" fill="none" stroke="#f1e7dc" stroke-width="1.7"/><circle cx="945.6" cy="1715.1" r="0.9" fill="#f1e7dc"/>
<path d="M1040 1712.5L1040 1724.5L1043 1721.5L1045.3 1726.2L1047.3 1725.2L1045 1720.7L1049 1720.3Z" fill="#111"/>
<text x="804.3" y="1722.7" font-size="11.5" fill="#222" textLength="79.4" lengthAdjust="spacingAndGlyphs">/visualcapitalist</text>
<text x="960.1" y="1722.7" font-size="11.5" fill="#222" textLength="58.1" lengthAdjust="spacingAndGlyphs">@visualcap</text>
<text x="1062.6" y="1722.7" font-size="11.5" fill="#222" textLength="101.2" lengthAdjust="spacingAndGlyphs">visualcapitalist.com</text>
</svg>
</body></html>
